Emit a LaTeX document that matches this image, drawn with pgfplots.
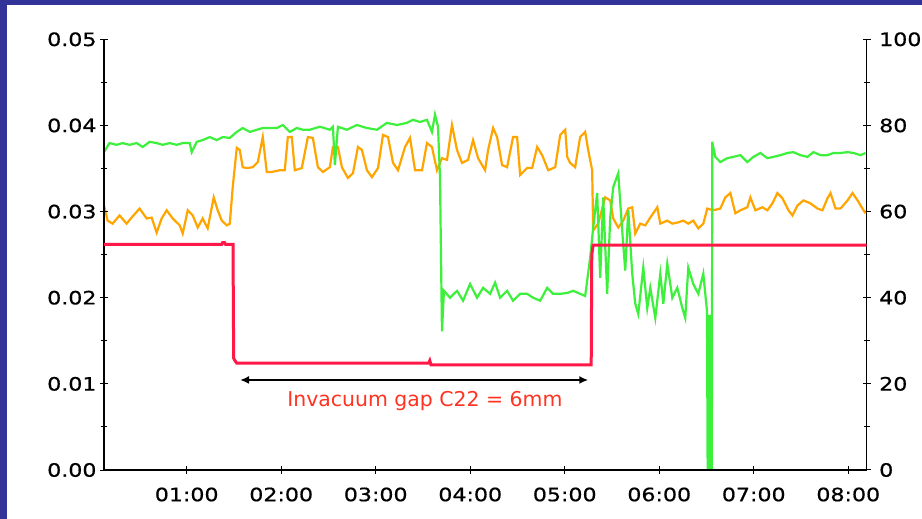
\documentclass[border=0pt]{standalone}
\usepackage{pgfplots}
\pgfplotsset{compat=1.18}
\usepackage{fontspec}
\setmainfont{DejaVu Sans}
\newfontfamily\tickfont[FakeStretch=1.2,FakeBold=0.7]{DejaVu Sans}
\usetikzlibrary{arrows.meta}
\definecolor{bgblue}{RGB}{51,51,153}
\definecolor{gline}{RGB}{60,240,60}
\definecolor{oline}{RGB}{255,165,0}
\definecolor{rline}{RGB}{255,24,72}
\definecolor{tred}{RGB}{255,51,34}
\pgfplotsset{
  common/.style={
    at={(104bp,49bp)}, anchor=south west, scale only axis,
    width=762.7bp, height=430.7bp,
    xmin=0.125, xmax=8.195,
    tick align=center, major tick length=8bp, minor tick length=6bp,
    every tick/.style={black, line width=1bp},
    axis line style={black, line width=1.2bp, -},
    ticklabel style={font=\tickfont\fontsize{18.5}{20}\selectfont},
    /pgf/number format/assume math mode=true,
  }
}
\begin{document}
\begin{tikzpicture}
\fill[bgblue] (0,0) rectangle (922bp,519bp);
\fill[white] (7bp,0) rectangle (922bp,514bp);
% right axis: green and orange
\begin{axis}[common,
  ymin=0, ymax=100, axis y line*=right, hide x axis,
  ytick={0,20,40,60,80,100}, minor y tick num=1,
  yticklabel style={xshift=5bp},
]
\addplot[oline, line width=2.2bp] coordinates {
(0.125,61.4)(0.163,57.9)(0.216,57.2)(0.290,59.1)(0.364,57.2)(0.417,58.6)(0.502,60.7)(0.576,58.4)(0.629,58.6)(0.682,55.1)(0.735,58.4)(0.788,60.3)(0.852,58.4)(0.926,56.8)(0.958,54.9)(1.011,60.3)(1.064,59.1)(1.117,56.3)(1.169,58.4)(1.222,56.1)(1.286,63.3)(1.328,60.3)(1.371,57.9)(1.424,56.8)(1.456,57.2)(1.487,65.7)(1.530,74.8)(1.561,74.3)(1.593,70.3)(1.636,70.1)(1.699,70.3)(1.752,71.5)(1.805,77.3)(1.847,69.2)(1.900,69.2)(1.985,69.6)(2.038,69.6)(2.070,77.3)(2.112,77.3)(2.144,69.6)(2.218,70.1)(2.282,77.3)(2.335,77.1)(2.388,70.3)(2.441,69.2)(2.515,70.3)(2.547,75.0)(2.600,75.0)(2.642,70.3)(2.706,67.8)(2.759,68.9)(2.812,75.0)(2.854,74.3)(2.907,69.6)(2.960,68.0)(3.024,70.1)(3.077,77.8)(3.130,77.3)(3.183,71.3)(3.236,69.6)(3.310,75.0)(3.363,77.1)(3.416,69.6)(3.490,69.6)(3.542,75.9)(3.595,75.0)(3.648,69.6)(3.701,72.4)(3.754,72.0)(3.807,80.1)(3.860,74.3)(3.913,71.3)(3.977,72.0)(4.030,76.6)(4.083,72.4)(4.157,69.6)(4.189,74.3)(4.242,79.4)(4.284,77.3)(4.337,70.8)(4.390,70.3)(4.453,77.3)(4.496,77.3)(4.528,68.5)(4.602,70.1)(4.655,70.1)(4.708,75.0)(4.761,73.1)(4.825,69.6)(4.899,70.3)(4.952,77.8)(5.005,79.0)(5.026,72.7)(5.057,71.3)(5.110,70.3)(5.163,77.3)(5.216,78.5)(5.248,74.3)(5.290,69.6)(5.301,55.6)(5.354,57.2)(5.428,63.3)(5.481,62.6)(5.513,58.4)(5.566,56.3)(5.619,57.9)(5.672,60.7)(5.714,61.0)(5.746,54.9)(5.799,57.2)(5.852,56.8)(5.905,58.6)(5.979,61.0)(6.011,57.2)(6.085,57.9)(6.138,57.2)(6.201,57.5)(6.254,57.9)(6.307,57.2)(6.360,57.9)(6.413,56.1)(6.466,57.2)(6.508,60.7)(6.572,60.3)(6.646,60.7)(6.699,63.3)(6.752,64.3)(6.805,59.6)(6.858,60.3)(6.932,61.0)(6.964,63.3)(7.017,60.3)(7.091,61.0)(7.144,60.3)(7.197,61.9)(7.250,64.3)(7.303,63.1)(7.367,60.3)(7.409,59.1)(7.462,61.4)(7.526,62.6)(7.600,61.9)(7.674,60.7)(7.727,60.3)(7.780,63.1)(7.812,64.3)(7.865,60.7)(7.918,60.7)(7.992,62.6)(8.045,64.3)(8.098,62.6)(8.150,60.7)(8.182,59.6)
};
\addplot[gline, line width=2.2bp] coordinates {
(0.125,73.8)(0.183,75.9)(0.258,75.5)(0.322,75.9)(0.396,75.5)(0.470,75.9)(0.534,75.0)(0.608,76.2)(0.682,75.9)(0.746,75.5)(0.820,75.9)(0.894,75.5)(0.958,75.9)(1.032,75.9)(1.053,73.8)(1.106,76.2)(1.169,76.6)(1.244,77.3)(1.318,76.6)(1.381,77.3)(1.456,77.1)(1.530,78.5)(1.593,79.4)(1.668,78.5)(1.742,79.0)(1.805,79.4)(1.879,79.4)(1.953,79.4)(2.017,80.1)(2.091,78.5)(2.165,79.4)(2.229,79.0)(2.303,79.0)(2.409,79.7)(2.515,79.0)(2.547,79.7)(2.568,70.8)(2.600,79.7)(2.695,79.0)(2.801,80.1)(2.907,79.4)(3.013,79.0)(3.119,80.6)(3.225,80.1)(3.331,80.6)(3.394,81.3)(3.468,80.8)(3.542,81.3)(3.595,78.5)(3.627,82.5)(3.659,79.7)(3.680,68.0)(3.701,32.2)(3.722,41.6)(3.786,40.0)(3.860,41.6)(3.924,39.3)(3.998,43.2)(4.072,40.0)(4.136,42.3)(4.210,40.9)(4.263,43.5)(4.316,40.0)(4.390,41.6)(4.453,39.3)(4.528,40.9)(4.602,40.9)(4.665,40.0)(4.740,39.3)(4.814,42.3)(4.877,40.9)(4.952,40.9)(5.026,41.1)(5.089,41.6)(5.163,40.9)(5.216,40.4)(5.237,43.9)(5.269,49.3)(5.301,56.3)(5.343,64.3)(5.375,44.6)(5.407,63.3)(5.449,40.9)(5.481,58.6)(5.513,65.7)(5.566,68.9)(5.608,55.6)(5.640,46.3)(5.672,60.3)(5.714,45.6)(5.746,38.6)(5.778,36.2)(5.831,47.0)(5.873,37.6)(5.905,42.3)(5.958,35.3)(6.011,45.6)(6.043,38.6)(6.085,47.9)(6.138,40.0)(6.191,42.3)(6.244,37.6)(6.275,35.3)(6.307,47.0)(6.360,43.2)(6.413,40.9)(6.466,45.6)(6.505,36.9)(6.512,0)(6.520,36)(6.527,0)(6.535,36)(6.542,0)(6.550,36)(6.556,0)(6.561,76.2)(6.593,72.7)(6.646,71.5)(6.720,72.4)(6.784,72.7)(6.858,73.1)(6.932,71.5)(6.996,72.7)(7.070,73.6)(7.144,72.4)(7.208,72.7)(7.282,73.1)(7.356,73.6)(7.419,73.8)(7.494,73.1)(7.568,72.7)(7.631,73.8)(7.706,73.1)(7.780,73.1)(7.843,73.6)(7.918,73.6)(7.992,73.8)(8.055,73.6)(8.129,73.1)(8.182,73.6)
};
\end{axis}
% left axis: red
\begin{axis}[common,
  ymin=0, ymax=0.05, axis x line*=bottom, axis y line*=left,
  ytick={0,0.01,0.02,0.03,0.04,0.05}, minor y tick num=1,
  yticklabel style={/pgf/number format/.cd, fixed, fixed zerofill, precision=2},
  xtick={1,2,3,4,5,6,7,8},
  xticklabels={01:00,02:00,03:00,04:00,05:00,06:00,07:00,08:00},
  xticklabel style={yshift=-10bp},
  scaled y ticks=false,
  clip=false,
]
\addplot[rline, line width=3bp] coordinates {
(0.125,0.0262)(1.37,0.0262)(1.38,0.0264)(1.40,0.0264)(1.41,0.0262)(1.490,0.0262)(1.497,0.0130)(1.51,0.0127)(1.53,0.0124)(3.56,0.0124)(3.572,0.0127)(3.585,0.0122)(5.280,0.0122)(5.286,0.0250)(5.30,0.0261)(8.195,0.0261)
};
\draw[{Latex[length=9bp,width=8bp]}-{Latex[length=9bp,width=8bp]}, line width=1.8bp, black]
  (axis cs:1.564,0.01045) -- (axis cs:5.249,0.01045);
\node[text=tred, font=\fontsize{20.5}{24}\selectfont] at (axis cs:3.52,0.0080) {Invacuum gap C22 = 6mm};
\end{axis}
\pgfresetboundingbox
\path[use as bounding box] (0,0) rectangle (922bp,519bp);
\end{tikzpicture}
\end{document}
